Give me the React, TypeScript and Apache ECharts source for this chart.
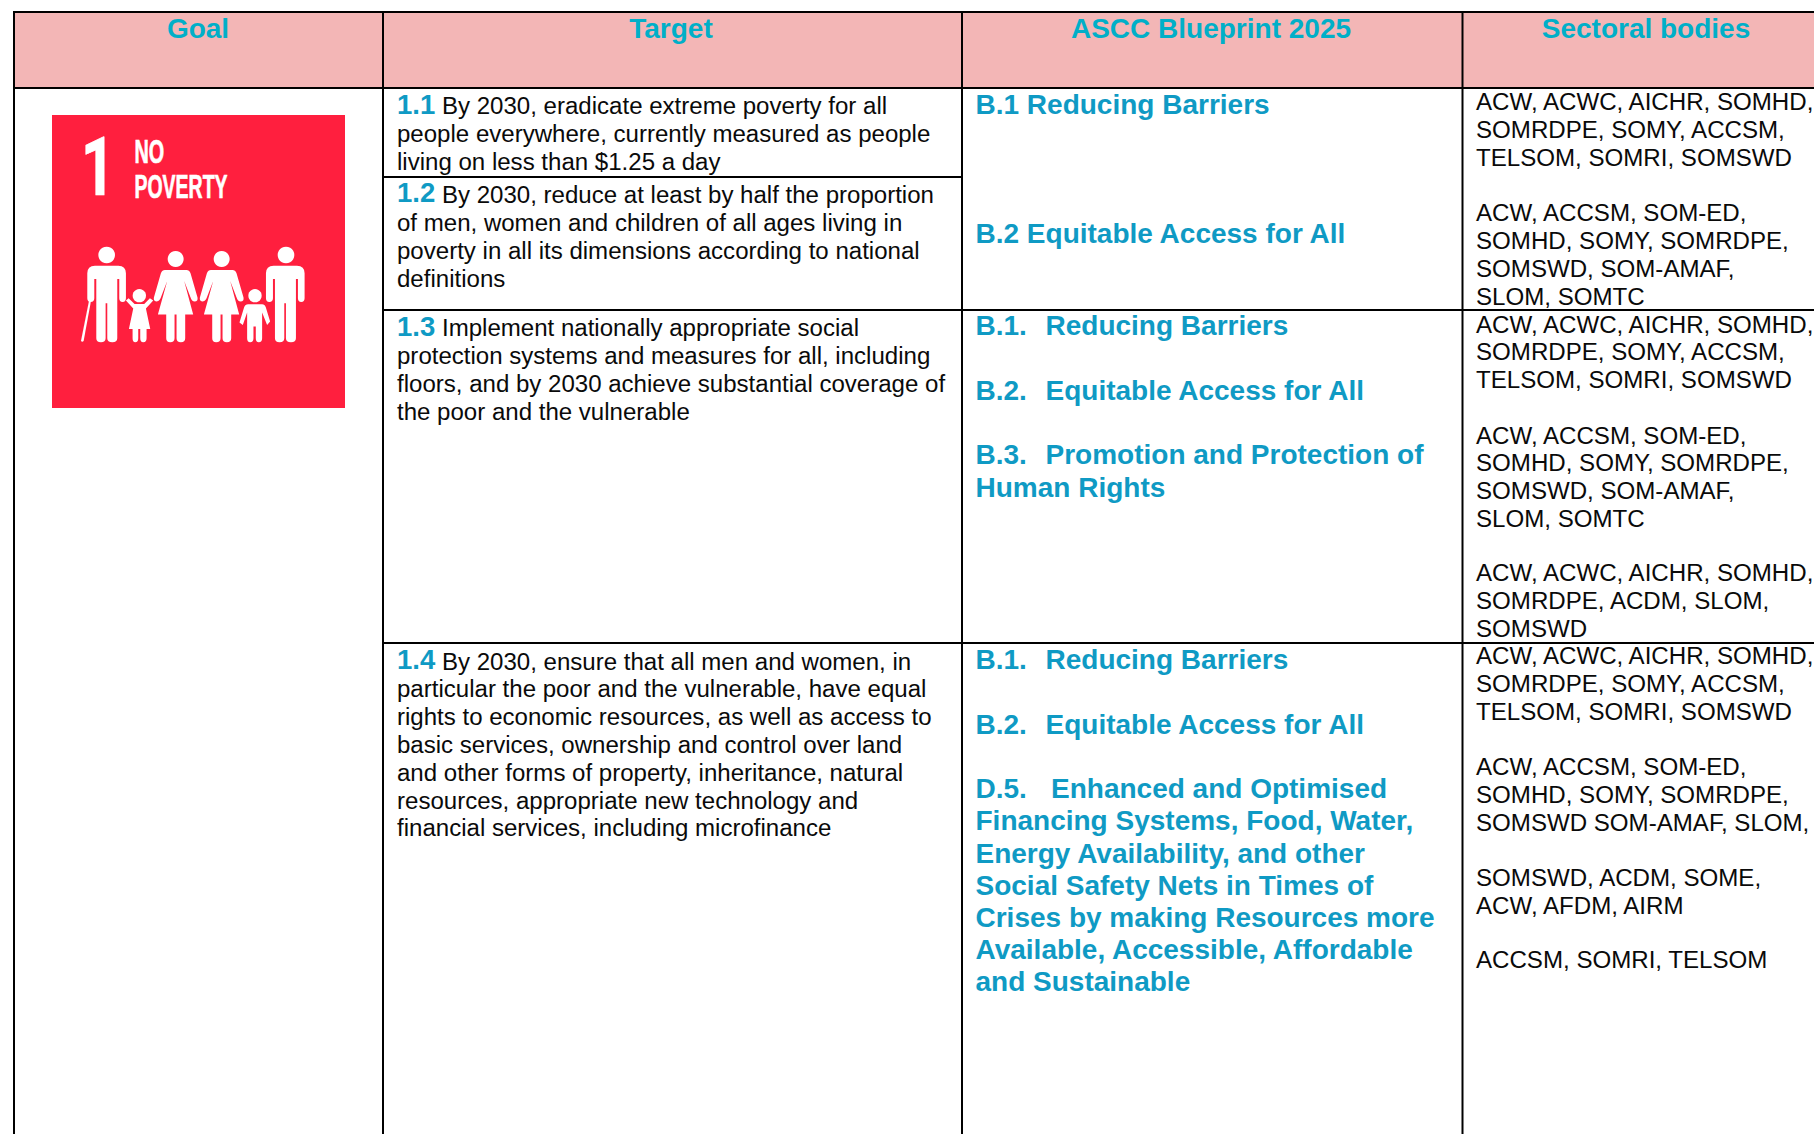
import React, { useEffect, useRef } from "react";
import * as echarts from "echarts";

const headers = ["Goal", "Target", "ASCC Blueprint 2025", "Sectoral bodies"];
const targetNumbers = ["1.1", "1.2", "1.3", "1.4"];
const target11 = ["By 2030, eradicate extreme poverty for all", "people everywhere, currently measured as people", "living on less than $1.25 a day"];
const target12 = ["By 2030, reduce at least by half the proportion", "of men, women and children of all ages living in", "poverty in all its dimensions according to national", "definitions"];
const target13 = ["Implement nationally appropriate social", "protection systems and measures for all, including", "floors, and by 2030 achieve substantial coverage of", "the poor and the vulnerable"];
const target14 = ["By 2030, ensure that all men and women, in", "particular the poor and the vulnerable, have equal", "rights to economic resources, as well as access to", "basic services, ownership and control over land", "and other forms of property, inheritance, natural", "resources, appropriate new technology and", "financial services, including microfinance"];
const blueprintA = ["B.1 Reducing Barriers"];
const blueprintB = ["B.2 Equitable Access for All"];
const blueprintC = ["B.1.  Reducing Barriers"];
const blueprintD = ["B.2.  Equitable Access for All"];
const blueprintE = ["B.3.  Promotion and Protection of", "Human Rights"];
const blueprintF = ["B.1.  Reducing Barriers"];
const blueprintG = ["B.2.  Equitable Access for All"];
const blueprintH = ["D.5.   Enhanced and Optimised", "Financing Systems, Food, Water,", "Energy Availability, and other", "Social Safety Nets in Times of", "Crises by making Resources more", "Available, Accessible, Affordable", "and Sustainable"];
const bodiesA = ["ACW, ACWC, AICHR, SOMHD,", "SOMRDPE, SOMY, ACCSM,", "TELSOM, SOMRI, SOMSWD"];
const bodiesB = ["ACW, ACCSM, SOM-ED,", "SOMHD, SOMY, SOMRDPE,", "SOMSWD, SOM-AMAF,", "SLOM, SOMTC"];
const bodiesC = ["ACW, ACWC, AICHR, SOMHD,", "SOMRDPE, SOMY, ACCSM,", "TELSOM, SOMRI, SOMSWD"];
const bodiesD = ["ACW, ACCSM, SOM-ED,", "SOMHD, SOMY, SOMRDPE,", "SOMSWD, SOM-AMAF,", "SLOM, SOMTC"];
const bodiesE = ["ACW, ACWC, AICHR, SOMHD,", "SOMRDPE, ACDM, SLOM,", "SOMSWD"];
const bodiesF = ["ACW, ACWC, AICHR, SOMHD,", "SOMRDPE, SOMY, ACCSM,", "TELSOM, SOMRI, SOMSWD"];
const bodiesG = ["ACW, ACCSM, SOM-ED,", "SOMHD, SOMY, SOMRDPE,", "SOMSWD SOM-AMAF, SLOM,"];
const bodiesH = ["SOMSWD, ACDM, SOME,", "ACW, AFDM, AIRM"];
const bodiesI = ["ACCSM, SOMRI, TELSOM"];

const FONT = "'Liberation Sans', Arial, sans-serif";
const HEAD_BLUE = "#00AFC8";
const BODY_BLUE = "#0F9AC4";
const INK = "#0A0A0A";
const PINK = "#F3B6B6";
const RED = "#FF1F3E";

const manD = "M112 130 Q112 107 135 107 L205 107 Q228 107 228 130 L228 205 Q228 216 218 216 Q208 216 208 205 L208 147 L202 147 L202 325 Q202 337 187 337 Q172 337 172 325 L172 220 L167 220 L167 325 Q167 337 153 337 Q139 337 139 325 L139 147 L133 147 L133 205 Q133 216 122 216 Q112 216 112 205 Z";
const womanD = "M345 120 L410 120 Q418 120 422 130 L443 203 Q445 215 434 215 Q427 215 423 205 L403 153 L430 254 L406 254 L406 325 Q406 337 393 337 Q380 337 380 325 L380 254 L374 254 L374 325 Q374 337 361 337 Q349 337 349 325 L349 254 L324 254 L352 153 L332 205 Q327 215 319 215 Q310 213 312 203 L333 130 Q337 120 345 120 Z";
const girlD = "M228 212 L236 205 L254 222 L283 222 L300 205 L310 212 L288 236 L301 297 L290 297 L290 325 Q290 337 280 337 Q271 337 271 325 L271 297 L265 297 L265 325 Q265 337 256 337 Q248 337 248 325 L248 297 L237 297 L250 236 Z";
const boyD = "M595 223 L637 223 Q645 223 648 232 L661 275 L652 285 L637 248 L637 325 Q637 337 627 337 Q618 337 618 325 L618 290 L611 290 L611 325 Q611 337 601 337 Q592 337 592 325 L592 248 L579 285 L569 278 L583 232 Q586 223 595 223 Z";
const caneD = "M117 213 L123 213 L101 333 Q97 338 93 333 Z";

echarts.graphic.registerShape("famMan", echarts.graphic.extendPath(manD, {}));
echarts.graphic.registerShape("famWoman", echarts.graphic.extendPath(womanD, {}));
echarts.graphic.registerShape("famGirl", echarts.graphic.extendPath(girlD, {}));
echarts.graphic.registerShape("famBoy", echarts.graphic.extendPath(boyD, {}));
echarts.graphic.registerShape("famCane", echarts.graphic.extendPath(caneD, {}));

// y is the text baseline; zrender places text by its central line
function label(text: string, x: number, y: number, size: number, weight: string, fill: string, align = "left") {
  return { type: "text", z: 5, style: { text, x, y: y - 0.3465 * size, fontFamily: FONT, fontSize: size, fontWeight: weight, fill, align, verticalAlign: "middle" } };
}
function hline(x1: number, x2: number, y: number) {
  return { type: "rect", z: 4, shape: { x: x1, y: y - 1, width: x2 - x1, height: 2 }, style: { fill: "#000" } };
}
function vline(x: number, y1: number, y2: number) {
  return { type: "rect", z: 4, shape: { x: x - 1, y: y1, width: 2, height: y2 - y1 }, style: { fill: "#000" } };
}
function logoText(text: string, x: number, y: number, size: number, scaleX: number, family: string) {
  return { type: "text", z: 3, x, y: y - 0.3465 * size, scaleX, style: { text, x: 0, y: 0, fontFamily: family, fontWeight: "bold", fontSize: size, fill: "#fff", stroke: "#fff", lineWidth: 0.7, verticalAlign: "middle" } };
}

function buildGraphics() {
  const L = 14, R = 1814, T = 12, H = 88, B = 1134;
  const C1 = 383, C2 = 962, C3 = 1462.5;
  const TS = 24.05, SS = 24.1, BS = 28, NS = 27.5;
  const TX = 397, BX = 975.5, SX = 1476, NX = 442;
  const e: any[] = [];
  e.push({ type: "rect", z: 1, shape: { x: L, y: T, width: R - L, height: H - T }, style: { fill: PINK } });
  [L, C1, C2, C3].forEach((x) => e.push(vline(x, T - 1, B)));
  e.push(hline(L - 1, R, T), hline(L - 1, R, H), hline(C1, C2, 177), hline(C1, R, 310), hline(C1, R, 643));
  const centers = [198, 671, 1211, 1646];
  headers.forEach((h, i) => e.push(label(h, centers[i], 38, BS, "bold", HEAD_BLUE, "center")));

  // logo
  e.push({ type: "rect", z: 2, shape: { x: 52, y: 115, width: 293, height: 293 }, style: { fill: RED } });
  const white = { fill: "#fff" };
  e.push(logoText("1", 81, 195, 82, 0.72, "Roboto"), logoText("NO", 134.5, 163, 33, 0.6, FONT), logoText("POVERTY", 134.5, 198, 33, 0.59, FONT));
  const k = 1 / 3, ox = 50, oy = 230;
  const place = (type: string, dx = 0) => ({ type, z: 3, x: ox + dx * k, y: oy, scaleX: k, scaleY: k, style: white });
  e.push(place("famMan"), place("famMan", 536), place("famWoman"), place("famWoman", 138), place("famGirl"), place("famBoy"), place("famCane"));
  ([[170, 75, 25], [708, 75, 25], [377, 87, 24], [515, 87, 24], [268, 197, 20], [615, 197, 20]] as number[][]).forEach(([cx, cy, r]) =>
    e.push({ type: "circle", z: 3, shape: { cx: ox + cx * k, cy: oy + cy * k, r: r * k }, style: white })
  );

  // targets
  const tBlocks: [string[], number, number][] = [[target11, 114, 27.9], [target12, 202.5, 28], [target13, 336, 28], [target14, 669.5, 27.8]];
  tBlocks.forEach(([lines, y, step], i) => {
    e.push(label(targetNumbers[i], TX, y, NS, "bold", BODY_BLUE));
    e.push(label(lines[0], NX, y, TS, "normal", INK));
    lines.slice(1).forEach((t, j) => e.push(label(t, TX, y + (j + 1) * step, TS, "normal", INK)));
  });

  // blueprint
  const bBlocks: [string[], number][] = [[blueprintA, 114.3], [blueprintB, 243.3], [blueprintC, 335.6], [blueprintD, 400.6], [blueprintE, 464.6], [blueprintF, 669.2], [blueprintG, 734.4], [blueprintH, 798.4]];
  bBlocks.forEach(([lines, y]) =>
    lines.forEach((t, i) => {
      const parts = t.split(/\s{2,}/);
      e.push(label(parts[0], BX, y + i * 32.2, BS, "bold", BODY_BLUE));
      if (parts[1]) e.push(label(parts[1], t.includes("   ") ? 1051 : 1045.5, y + i * 32.2, BS, "bold", BODY_BLUE));
    })
  );

  // sectoral bodies
  const sBlocks: [string[], number][] = [[bodiesA, 110], [bodiesB, 221], [bodiesC, 332.5], [bodiesD, 443.5], [bodiesE, 581], [bodiesF, 664], [bodiesG, 775], [bodiesH, 886], [bodiesI, 968]];
  sBlocks.forEach(([lines, y]) => lines.forEach((t, i) => e.push(label(t, SX, y + i * 27.8, SS, "normal", INK))));
  return e;
}

export default function App() {
  const ref = useRef<HTMLDivElement>(null);
  useEffect(() => {
    document.body.style.margin = "0";
    const chart = echarts.init(ref.current!, undefined, { renderer: "svg" });
    chart.setOption({ animation: false, backgroundColor: "#ffffff", graphic: { elements: buildGraphics() } });
    return () => chart.dispose();
  }, []);
  return <div ref={ref} style={{ position: "absolute", left: 0, top: 0, width: 1814, height: 1134 }} />;
}
